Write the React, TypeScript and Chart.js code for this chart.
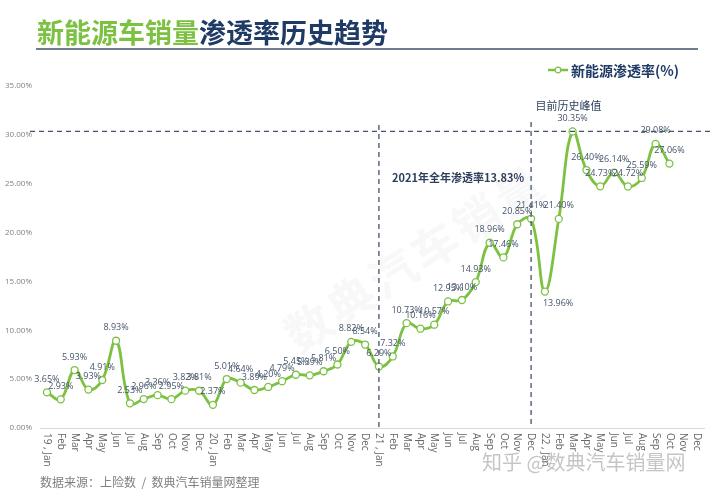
import React, { useEffect, useRef } from "react";
import { Chart, registerables } from "chart.js";

Chart.register(...registerables);

const months = ["Jan", "Feb", "Mar", "Apr", "May", "Jun", "Jul", "Aug", "Sep", "Oct", "Nov", "Dec"];
const years = ["19", "20", "21", "22"];
const categories: string[] = years.flatMap((y) => months.map((m) => (m === "Jan" ? `${y} , Jan` : m)));

const rate2019 = [3.65, 2.93, 5.93, 3.93, 4.91, 8.93, 2.53, 2.96, 3.36, 2.95, 3.82, 3.81];
const rate2020 = [2.37, 5.01, 4.64, 3.89, 4.2, 4.79, 5.45, 5.39, 5.81, 6.5, 8.82, 8.54];
const rate2021 = [6.29, 7.32, 10.73, 10.16, 10.57, 12.95, 13.1, 14.93, 18.96, 17.46, 20.85, 21.41];
const rate2022 = [13.96, 21.4, 30.35, 26.4, 24.73, 26.14, 24.72, 25.59, 29.08, 27.06, null, null];
const penetration: (number | null)[] = [...rate2019, ...rate2020, ...rate2021, ...rate2022];

const yTicks = [0, 5, 10, 15, 20, 25, 30, 35];
const peakValue = 30.35;
const year2021Start = 24;
const year2021End = 35;
const annotation2021 = "2021年全年渗透率13.83%";
const annotationPeak = "目前历史峰值";

const GREEN = "#7cc142";
const NAVY = "#1f3a64";
const LABEL = "#44546a";

const overlayPlugin = {
  id: "overlay",
  afterDatasetsDraw(chart: any) {
    const { ctx, chartArea, scales } = chart;
    const xs = scales.x;
    const ys = scales.y;
    ctx.save();
    ctx.strokeStyle = "#44546a";
    ctx.lineWidth = 1.3;
    ctx.setLineDash([5, 4]);
    const yPeak = ys.getPixelForValue(peakValue);
    ctx.beginPath();
    ctx.moveTo(chartArea.left - 10, yPeak);
    ctx.lineTo(chartArea.right + 6, yPeak);
    ctx.stroke();
    const x1 = xs.getPixelForValue(year2021Start);
    const x2 = xs.getPixelForValue(year2021End);
    ctx.beginPath();
    ctx.moveTo(x1, chartArea.top + 39);
    ctx.lineTo(x1, chartArea.bottom);
    ctx.moveTo(x2, chartArea.top + 36);
    ctx.lineTo(x2, chartArea.bottom);
    ctx.stroke();
    ctx.setLineDash([]);

    ctx.fillStyle = "#2e3f5c";
    ctx.font = "bold 11px 'Noto Sans CJK SC', 'Open Sans', sans-serif";
    ctx.textAlign = "center";
    ctx.textBaseline = "middle";
    ctx.fillText(annotation2021, (x1 + x2) / 2 + 3, 178);
    ctx.font = "11px 'Noto Sans CJK SC', sans-serif";
    const peakIdx = penetration.indexOf(peakValue);
    ctx.fillText(annotationPeak, xs.getPixelForValue(peakIdx) - 4, 106);

    const meta = chart.getDatasetMeta(0);
    ctx.font = "9px 'Open Sans', sans-serif";
    ctx.fillStyle = LABEL;
    meta.data.forEach((pt: any, i: number) => {
      const v = penetration[i];
      if (v == null) return;
      const txt = v.toFixed(2) + "%";
      if (v === 13.96) {
        ctx.textAlign = "left";
        ctx.fillText(txt, pt.x - 2, pt.y + 12);
      } else {
        ctx.textAlign = "center";
        ctx.fillText(txt, pt.x, pt.y - 13);
      }
    });

    ctx.font = "10px 'Open Sans', sans-serif";
    ctx.fillStyle = "#666666";
    ctx.textAlign = "left";
    ctx.textBaseline = "middle";
    categories.forEach((lab, i) => {
      const x = xs.getPixelForValue(i);
      ctx.save();
      ctx.translate(x, chartArea.bottom + 5);
      ctx.rotate(Math.PI / 2);
      ctx.fillText(lab, 0, 0);
      ctx.restore();
    });
    ctx.restore();
  },
};

export default function App() {
  const ref = useRef<HTMLCanvasElement>(null);
  useEffect(() => {
    document.body.style.margin = "0";
    const chart = new Chart(ref.current!, {
      type: "line",
      data: {
        labels: categories,
        datasets: [
          {
            label: "新能源渗透率(%)",
            data: penetration,
            borderColor: GREEN,
            borderWidth: 2.8,
            tension: 0.4,
            pointRadius: 3.5,
            pointBorderWidth: 1.3,
            pointBackgroundColor: "#ffffff",
            pointBorderColor: GREEN,
            spanGaps: false,
          },
        ],
      },
      options: {
        animation: false,
        responsive: false,
        layout: { padding: { top: 86, right: 16, left: 0, bottom: 0 } },
        plugins: { legend: { display: false }, tooltip: { enabled: false } },
        scales: {
          x: {
            offset: true,
            grid: { display: false, drawTicks: false },
            border: { display: true, color: "#d9d9d9", width: 1 },
            ticks: { display: false },
            afterFit: (s: any) => {
              s.height = 63;
            },
          },
          y: {
            min: 0,
            max: 35,
            afterBuildTicks: (s: any) => {
              s.ticks = yTicks.map((v) => ({ value: v }));
            },
            grid: { display: false, drawTicks: false },
            border: { display: false },
            ticks: {
              padding: 8,
              color: "#7f7f7f",
              font: { size: 8, family: "'Open Sans', sans-serif" },
              callback: (v: any) => Number(v).toFixed(2) + "%",
            },
            afterFit: (s: any) => {
              s.width = 40;
            },
          },
        },
      },
      plugins: [overlayPlugin],
    });
    return () => chart.destroy();
  }, []);

  const cjk = "'Noto Sans CJK SC', sans-serif";
  return (
    <div style={{ position: "relative", width: 720, height: 491, background: "#fff", overflow: "hidden", fontFamily: cjk }}>
      <div
        style={{
          position: "absolute",
          left: 270,
          top: 310,
          fontSize: 46,
          fontWeight: 700,
          color: "rgba(200,200,200,0.15)",
          transform: "rotate(-33deg)",
          transformOrigin: "left top",
          whiteSpace: "nowrap",
          letterSpacing: 4,
          pointerEvents: "none",
        }}
      >
        数典汽车销量
      </div>
      <canvas ref={ref} width={720} height={491} style={{ position: "absolute", left: 0, top: 0 }} />
      <div
        style={{
          position: "absolute",
          left: 37,
          top: 14,
          fontSize: 27,
          fontWeight: 700,
          lineHeight: "36px",
          whiteSpace: "nowrap",
        }}
      >
        <span style={{ color: GREEN }}>新能源车销量</span>
        <span style={{ color: NAVY }}>渗透率历史趋势</span>
      </div>
      <div style={{ position: "absolute", left: 36, top: 48, width: 662, height: 2, background: "#6f7c8e" }} />
      <div style={{ position: "absolute", left: 548, top: 60, display: "flex", alignItems: "center", whiteSpace: "nowrap" }}>
        <svg width={20} height={10} style={{ marginRight: 3 }}>
          <line x1={0} y1={5} x2={20} y2={5} stroke={GREEN} strokeWidth={2.5} />
          <circle cx={10} cy={5} r={2.8} fill="#fff" stroke={GREEN} strokeWidth={1.2} />
        </svg>
        <span style={{ fontSize: 14, fontWeight: 700, color: NAVY, lineHeight: "20px" }}>新能源渗透率(%)</span>
      </div>
      <div style={{ position: "absolute", left: 40, top: 474, fontSize: 12, color: "#808080", whiteSpace: "pre", lineHeight: "16px" }}>
        {"数据来源：上险数  /  数典汽车销量网整理"}
      </div>
      <div
        style={{
          position: "absolute",
          left: 482,
          top: 449,
          fontSize: 20,
          color: "rgba(150,150,150,0.55)",
          whiteSpace: "nowrap",
          lineHeight: "26px",
        }}
      >
        知乎 @数典汽车销量网
      </div>
    </div>
  );
}
